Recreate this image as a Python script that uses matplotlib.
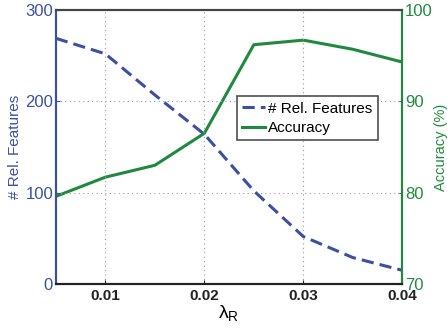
import matplotlib
matplotlib.use('Agg')
import matplotlib.pyplot as plt

plt.rcParams['font.family'] = ['Liberation Sans', 'DejaVu Sans']
plt.rcParams['mathtext.fontset'] = 'custom'
plt.rcParams['mathtext.rm'] = 'Liberation Sans'
plt.rcParams['mathtext.it'] = 'Liberation Sans:italic'

lam = [0.005, 0.01, 0.015, 0.02, 0.025, 0.03, 0.035, 0.04]
n_features = [269, 252, 207, 164, 102, 52, 29, 15]
accuracy = [79.6, 81.7, 83.0, 86.5, 96.2, 96.7, 95.7, 94.3]
x_ticks = [0.01, 0.02, 0.03, 0.04]

blue = '#3b4fa3'
green = '#1f8a3e'

fig, ax = plt.subplots(figsize=(4.47, 3.33), dpi=100)
fig.subplots_adjust(left=0.125, right=0.9, top=0.97, bottom=0.147)
ax2 = ax.twinx()

l1, = ax.plot(lam, n_features, '--', color=blue, lw=2.2, dashes=(4, 2), label='# Rel. Features')
l2, = ax2.plot(lam, accuracy, '-', color=green, lw=2.2, label='Accuracy')

ax.set_xlim(0.005, 0.04)
ax.set_ylim(0, 300)
ax2.set_ylim(70, 100)
ax.set_xticks(x_ticks)
ax.set_xticklabels(['0.01', '0.02', '0.03', '0.04'], fontweight='bold')
ax.set_yticks([0, 100, 200, 300])
ax2.set_yticks([70, 80, 90, 100])

ax.grid(True, linestyle=(0, (1, 3)), color='#9a9a9a', lw=0.8)
ax.set_zorder(ax2.get_zorder() + 1)
ax.patch.set_visible(False)

ax.tick_params(axis='y', colors=blue, labelsize=12, direction='in', length=3, pad=2)
ax.tick_params(axis='x', colors='#222222', labelsize=11, direction='in', length=3)
ax2.tick_params(axis='y', colors=green, labelsize=12, direction='in', length=3, pad=2)

for a in (ax, ax2):
    a.spines['left'].set_color(blue)
    a.spines['right'].set_color(green)
    a.spines['bottom'].set_color('#222222')
    a.spines['top'].set_color('#444444')
    for s in a.spines.values():
        s.set_linewidth(1.5)

ax.set_ylabel('# Rel. Features', color=blue, fontsize=11, labelpad=2)
ax2.set_ylabel('Accuracy (%)', color=green, fontsize=10.5, labelpad=1)
ax.set_xlabel(r'$\mathrm{\lambda}_\mathrm{R}$', fontsize=14, labelpad=0)

leg = ax.legend(handles=[l1, l2], loc='upper left', bbox_to_anchor=(0.523, 0.685),
                fontsize=11, frameon=True, fancybox=False, handlelength=1.5,
                handletextpad=0.2, borderpad=0.35, labelspacing=0.35, borderaxespad=0)
leg.get_frame().set_edgecolor('#222222')
leg.get_frame().set_linewidth(1.2)

fig.savefig('out.png', dpi=100)
